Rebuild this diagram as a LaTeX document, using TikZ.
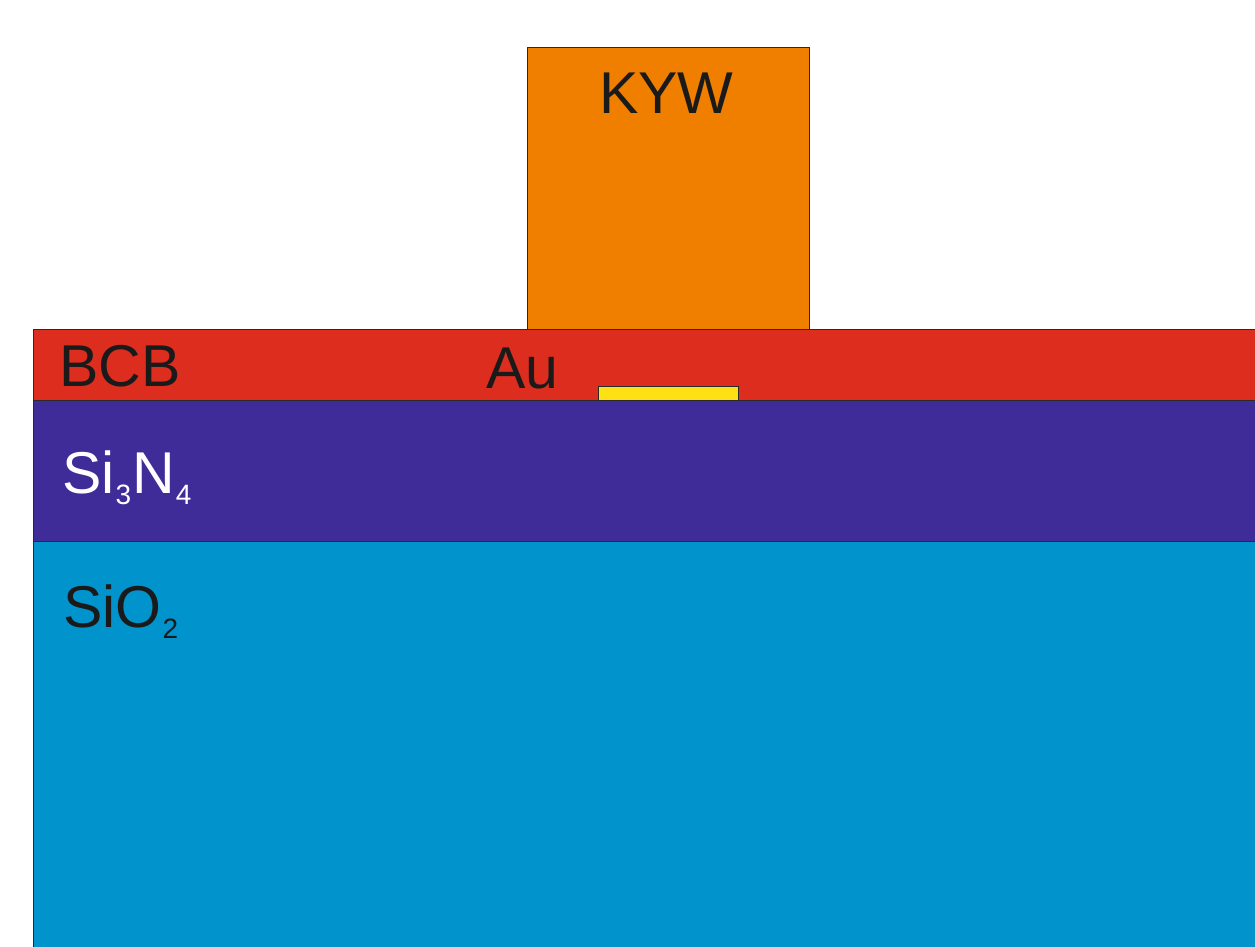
\documentclass[tikz,border=0pt]{standalone}
\usepackage{fontspec}
\setmainfont{Liberation Sans}
\definecolor{kywc}{HTML}{F07F00}
\definecolor{bcbc}{HTML}{DC2D1E}
\definecolor{auc}{HTML}{FDE114}
\definecolor{sinc}{HTML}{3F2C98}
\definecolor{sioc}{HTML}{0093CC}
\definecolor{txt}{HTML}{1A1A1A}
\definecolor{edge}{HTML}{2A2A2A}
\newcommand{\sbs}[1]{\hspace{1pt}\raisebox{-11pt}{\fontsize{28}{34}\selectfont #1}\hspace{1pt}}
\tikzset{
  layer/.style={draw=edge, line width=1pt},
  lbl/.style={anchor=base west, inner sep=0pt, font=\fontsize{59}{70}\selectfont, text=txt},
}
\begin{document}
\begin{tikzpicture}[x=1pt,y=-1pt]
\useasboundingbox (0,0) rectangle (1255,946);
\clip (0,0) rectangle (1255,946);
\fill[white] (0,0) rectangle (1255,946);
% SiO2
\path[layer, fill=sioc] (33,541) rectangle (1270,960);
% Si3N4
\path[layer, fill=sinc] (33,400) rectangle (1270,541);
% BCB
\path[layer, fill=bcbc] (33,329) rectangle (1270,400);
% Au
\path[layer, fill=auc] (598,386) rectangle (738,400);
% KYW
\path[layer, fill=kywc] (527,47) rectangle (809,329);
% labels
\node[lbl] (kyw) at (599,113) {KYW};
\node[lbl] (bcb) at (59,386) {BCB};
\node[lbl] (au) at (486,388) {Au};
\node[lbl, text=white] (sin) at (62,493) {Si\sbs{3}N\sbs{4}};
\node[lbl] (sio) at (63,627) {SiO\sbs{2}};
\end{tikzpicture}
\end{document}
